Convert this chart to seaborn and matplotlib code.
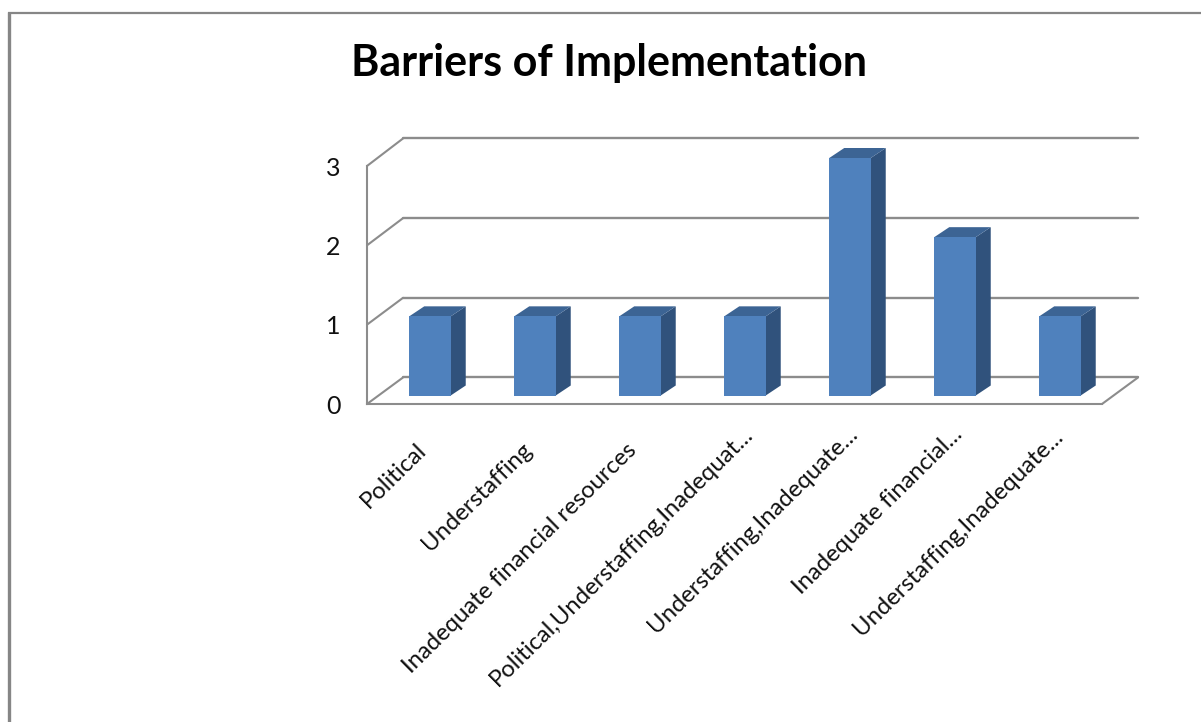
import matplotlib
matplotlib.use("Agg")
import matplotlib.pyplot as plt
from matplotlib.patches import Polygon
from matplotlib.transforms import ScaledTranslation
import seaborn as sns
import pandas as pd

categories = [
    "Political",
    "Understaffing",
    "Inadequate financial resources",
    "Political,Understaffing,Inadequat...",
    "Understaffing,Inadequate...",
    "Inadequate financial...",
    "Understaffing,Inadequate... ",
]
values = [1, 1, 1, 1, 3, 2, 1]
y_ticks = [0, 1, 2, 3]
title = "Barriers of Implementation"

W, H = 1201, 722
FRONT = "#4F81BD"
SIDE = "#30527C"
TOP = "#3C6494"
GRID = "#8C8C8C"

sns.set_theme(style="white")
plt.rcParams["font.family"] = ["Lato", "DejaVu Sans"]

fig = plt.figure(figsize=(W / 100, H / 100), dpi=100, facecolor="white")


def px_axes(left, right, top, bottom, **kw):
    return fig.add_axes([left / W, 1 - bottom / H, (right - left) / W, (bottom - top) / H], **kw)


# Full-figure overlay in pixel coordinates for the outer frame and the 3D box
deco = px_axes(0, W, 0, H)
deco.set_xlim(0, W)
deco.set_ylim(H, 0)
deco.axis("off")
deco.plot([8.5, 8.5], [H, 12], color="#868686", lw=2.4, solid_capstyle="butt")
deco.plot([7.5, W], [12.5, 12.5], color="#868686", lw=1.6, solid_capstyle="butt")

# Back wall with its value grid
wall = px_axes(403, 1138, 138.5, 377.5)
wall.set_ylim(0, 3)
wall.set_xlim(0, 1)
wall.patch.set_alpha(0)
wall.set_yticks(y_ticks)
wall.set_xticks([])
wall.tick_params(left=False, labelleft=False)
wall.grid(axis="y", color=GRID, lw=1.7, clip_on=False)
sns.despine(ax=wall, left=True, bottom=True, top=True, right=True)

# Front-left value axis
front = px_axes(367, 1102, 166, 404)
front.set_ylim(0, 3)
front.set_xlim(0, 1)
front.patch.set_alpha(0)
front.set_yticks(y_ticks)
front.set_xticks([])
front.tick_params(axis="y", left=False, pad=13, labelsize=18, labelcolor="#111111")
sns.despine(ax=front, left=False, bottom=False, top=True, right=True)
for side in ("left", "bottom"):
    front.spines[side].set_color(GRID)
    front.spines[side].set_linewidth(1.5)

# Depth connectors between the front axis and the back wall
for v in y_ticks:
    yf = 404 - v * (404 - 166) / 3
    yb = 377.5 - v * (377.5 - 138.5) / 3
    deco.plot([367, 403], [yf, yb], color=GRID, lw=1.5)
deco.plot([1102, 1138], [404, 377.5], color=GRID, lw=1.5)

# Bars
ax = px_axes(377.5, 1112.5, 158, 395.5)
ax.patch.set_alpha(0)
df = pd.DataFrame({"category": categories, "value": values})
sns.barplot(data=df, x="category", y="value", color=FRONT, saturation=1, width=0.395, ax=ax,
            zorder=3, linewidth=0)
ax.set_xlim(-0.5, 6.5)
ax.set_ylim(0, 3)
ax.set_xlabel("")
ax.set_ylabel("")
ax.set_yticks([])
ax.set_xticks(range(len(categories)))
ax.set_xticklabels(categories, rotation=44.5, ha="right", va="top", rotation_mode="anchor",
                   fontsize=17.2, color="#111111")
ax.tick_params(axis="x", bottom=False, pad=8)
for lab in ax.get_xticklabels():
    truncated = lab.get_text().strip().endswith("...")
    sx, sy = (-3, -8) if truncated else (-14, -24)
    shift = ScaledTranslation(sx / 100, sy / 100, fig.dpi_scale_trans)
    lab.set_transform(lab.get_transform() + shift)
sns.despine(ax=ax, left=True, bottom=True, top=True, right=True)

# Extruded side and top faces from each bar's own geometry
dx = 15 / 105
dy = 10 / 79.2
for bar in list(ax.patches):
    x0, w, h = bar.get_x(), bar.get_width(), bar.get_height()
    x1 = x0 + w
    ax.add_patch(Polygon([(x1, 0), (x1 + dx, dy), (x1 + dx, h + dy), (x1, h)],
                         closed=True, fc=SIDE, ec="none", zorder=2.9, clip_on=False))
    ax.add_patch(Polygon([(x0, h), (x0 + dx, h + dy), (x1 + dx, h + dy), (x1, h)],
                         closed=True, fc=TOP, ec="none", zorder=2.9, clip_on=False))

fig.text(609 / W, 1 - 63 / H, title, ha="center", va="center", fontsize=31, fontweight="bold", color="black")

fig.savefig("out.png", dpi=100)
